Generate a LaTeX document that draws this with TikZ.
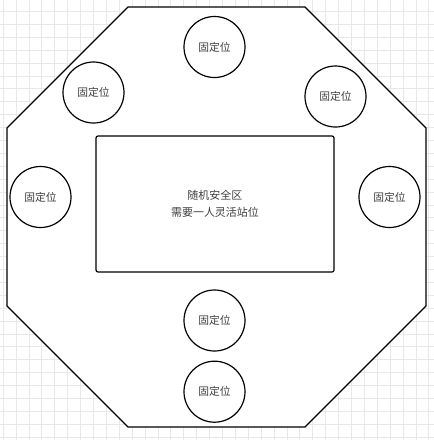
\documentclass[tikz,border=0pt]{standalone}
\usepackage{fontspec}
\newfontfamily\cjk{Noto Sans CJK SC}
\usetikzlibrary{positioning}
\tikzset{
	spot/.style={draw, circle, line width=1.2pt, minimum size=61pt, inner sep=0pt, font=\cjk\fontsize{10.8}{12}\selectfont, text=black!75},
	zonebox/.style={draw, rounded corners=2pt, line width=1.2pt, minimum width=238pt, minimum height=136pt, align=center, font=\cjk\fontsize{11}{17}\selectfont, text=black!75}
}
\begin{document}
\begin{tikzpicture}[x=1pt, y=-1pt]
			%%%%% START %%%%%
			\useasboundingbox (0, 0) rectangle (434, 440);
			\fill[white] (0, 0) rectangle (434, 440);
			\draw[black!9, line width=0.5pt, step=12.9pt, shift={(3, 11.3)}] (-3, -12) grid (434, 440);
			
			\draw[fill=white, line width=1.3pt] (128, 7) -- (305, 7) -- (426, 128) -- (426, 306)
				-- (305, 427) -- (128, 427) -- (7, 306) -- (7, 128) -- cycle;
			
			\node[zonebox] (zone) at (215, 204) {随机安全区\\需要一人灵活站位};
			
			\node[spot] (fixTop) at (214.5, 47) {固定位};
			\node[spot] (fixNW) at (93.5, 92.5) {固定位};
			\node[spot] (fixNE) at (335.5, 96.5) {固定位};
			\node[spot] (fixW) at (40.5, 197) {固定位};
			\node[spot] (fixE) at (389.5, 197) {固定位};
			\node[spot] (fixS) at (214.5, 320.5) {固定位};
			\node[spot, below=9pt of fixS] (fixSS) {固定位};
			%%%%% END %%%%%
		\end{tikzpicture}
\end{document}
